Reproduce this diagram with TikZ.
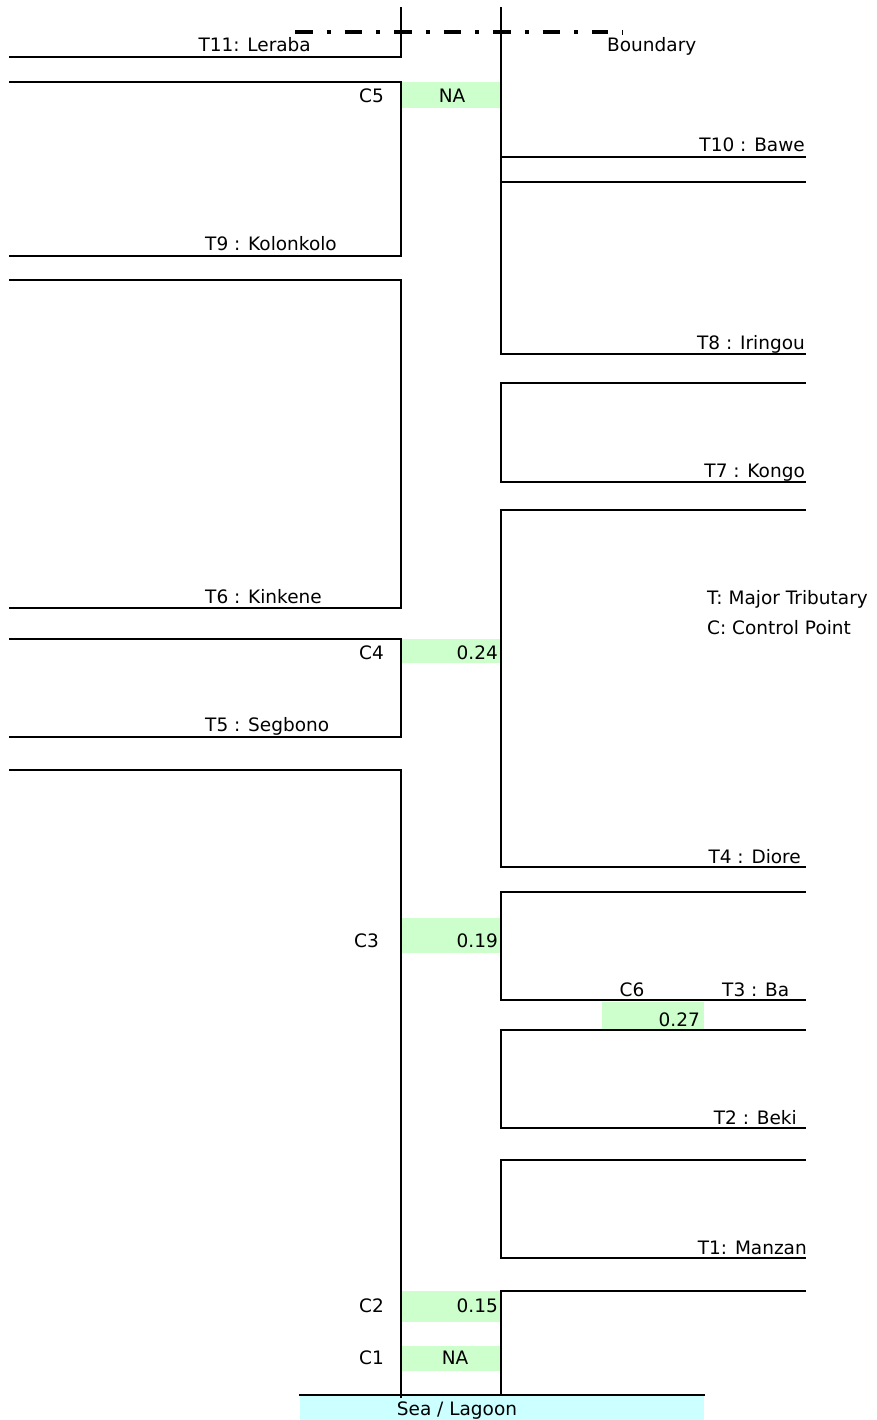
\documentclass[tikz,border=0pt]{standalone}
\usepackage{fontspec}
\setmainfont{DejaVu Sans}
\definecolor{cpgreen}{HTML}{CCFFCC}
\definecolor{seacyan}{HTML}{CCFFFF}
\begin{document}
\begin{tikzpicture}[x=1pt,y=-1pt,
  riv/.style={line width=2pt, line join=miter, line cap=rect},
  cpbox/.style={fill=cpgreen, draw=none},
  lbl/.style={font=\fontsize{18.5}{21}\selectfont, inner sep=0pt},
  boundaryline/.style={line width=4.5pt, dash pattern=on 17.5pt off 14pt on 4pt off 14pt}]
\useasboundingbox (0,0) rectangle (877,1420);

% control point boxes
\fill[cpbox] (401,82) rectangle (501,108);
\fill[cpbox] (401,639) rectangle (501,663);
\fill[cpbox] (401,918) rectangle (501,953);
\fill[cpbox] (602,1002) rectangle (704,1030);
\fill[cpbox] (401,1291) rectangle (501,1322);
\fill[cpbox] (401,1346) rectangle (501,1371);

% sea
\fill[seacyan] (300,1395) rectangle (704,1420);
\coordinate (seaL) at (300,1395);
\coordinate (seaR) at (704,1395);
\draw[riv] (seaL) -- (seaR);

% boundary
\coordinate (bdL) at (295,32);
\coordinate (bdR) at (608,32);
\coordinate (tickT) at (622,30);
\coordinate (tickB) at (622,35);
\draw[boundaryline] (bdL) -- (bdR);
\draw[line width=0.8pt] (tickT) -- (tickB);

% left tributaries
\draw[riv] (10,57) -- (401,57) -- (401,8);
\draw[riv] (10,82) -- (401,82) -- (401,256) -- (10,256);
\draw[riv] (10,280) -- (401,280) -- (401,608) -- (10,608);
\draw[riv] (10,639) -- (401,639) -- (401,737) -- (10,737);
\draw[riv] (10,770) -- (401,770) -- (401,1397);

% right tributaries
\draw[riv] (501,8) -- (501,354) -- (805,354);
\draw[riv] (501,157) -- (805,157);
\draw[riv] (501,182) -- (805,182);
\draw[riv] (805,383) -- (501,383) -- (501,482) -- (805,482);
\draw[riv] (805,510) -- (501,510) -- (501,867) -- (805,867);
\draw[riv] (805,892) -- (501,892) -- (501,1000) -- (805,1000);
\draw[riv] (805,1030) -- (501,1030) -- (501,1128) -- (805,1128);
\draw[riv] (805,1160) -- (501,1160) -- (501,1258) -- (805,1258);
\draw[riv] (805,1291) -- (501,1291) -- (501,1395);

% labels
\node[lbl, anchor=base east] (t11) at (311,52) {T11: Leraba};
\node[lbl, anchor=base west] (bnd) at (607,52) {Boundary};
\node[lbl, anchor=base east] (c5) at (384,103) {C5};
\node[lbl, anchor=base] (c5v) at (452,103) {NA};
\node[lbl, anchor=base east] (t10) at (805,152) {T10 : Bawe};
\node[lbl, anchor=base west] (t9) at (205,251) {T9 : Kolonkolo};
\node[lbl, anchor=base east] (t8) at (805,349) {T8 : Iringou};
\node[lbl, anchor=base east] (t7) at (805,477) {T7 : Kongo};
\node[lbl, anchor=base west] (t6) at (205,603) {T6 : Kinkene};
\node[lbl, anchor=base west] (lgT) at (707,604) {T: Major Tributary};
\node[lbl, anchor=base west] (lgC) at (707,634) {C: Control Point};
\node[lbl, anchor=base east] (c4) at (384,659) {C4};
\node[lbl, anchor=base east] (c4v) at (498,659) {0.24};
\node[lbl, anchor=base west] (t5) at (205,731) {T5 : Segbono};
\node[lbl, anchor=base east] (t4) at (801,863) {T4 : Diore};
\node[lbl, anchor=base east] (c3) at (379,947) {C3};
\node[lbl, anchor=base east] (c3v) at (498,947) {0.19};
\node[lbl, anchor=base] (c6) at (632,996) {C6};
\node[lbl, anchor=base west] (t3) at (722,996) {T3 : Ba};
\node[lbl, anchor=base east] (c6v) at (700,1026) {0.27};
\node[lbl, anchor=base east] (t2) at (797,1124) {T2 : Beki};
\node[lbl, anchor=base east] (t1) at (807,1254) {T1: Manzan};
\node[lbl, anchor=base east] (c2) at (384,1312) {C2};
\node[lbl, anchor=base east] (c2v) at (498,1312) {0.15};
\node[lbl, anchor=base east] (c1) at (384,1364) {C1};
\node[lbl, anchor=base] (c1v) at (455,1364) {NA};
\node[lbl, anchor=base] (sea) at (457,1415) {Sea / Lagoon};
\end{tikzpicture}
\end{document}
